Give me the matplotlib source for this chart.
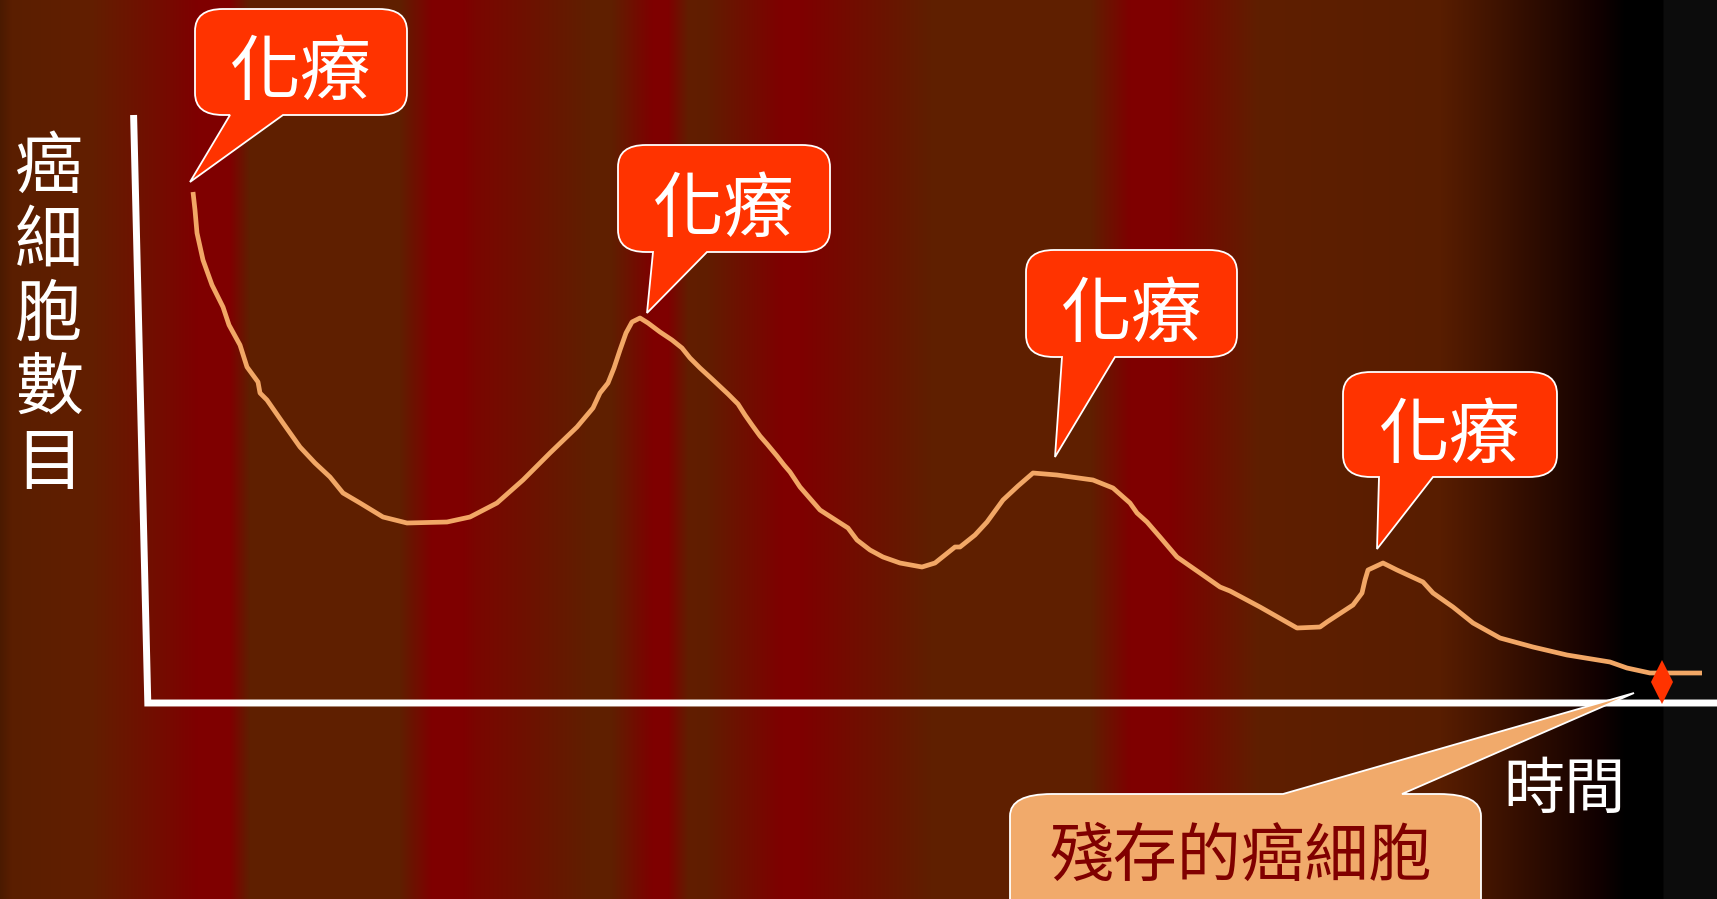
import numpy as np
import matplotlib
matplotlib.use("Agg")
import matplotlib.pyplot as plt
from matplotlib.path import Path
from matplotlib.patches import PathPatch, Polygon
from matplotlib.colors import to_rgb

W, H = 1717, 899
plt.rcParams['font.family'] = ['Noto Sans CJK TC', 'DejaVu Sans']

# ---------------- data ----------------
# time (arbitrary units from origin) and cancer-cell count (arbitrary units)
time = [45, 47, 49, 55, 64, 75, 81, 92, 99, 110, 112, 119, 135, 152, 167, 182,
        195, 212, 235, 259, 299, 322, 349, 375, 402, 429, 445, 452, 460, 466,
        472, 478, 484, 492, 500, 512, 524, 534, 542, 552, 564, 580, 590, 597,
        604, 612, 619, 629, 636, 642, 652, 672, 700, 709, 722, 735, 752, 774,
        787, 807, 812, 827, 839, 855, 870, 885, 909, 945, 965, 982, 989, 999,
        1012, 1029, 1052, 1072, 1082, 1112, 1149, 1172, 1179, 1205, 1214, 1217,
        1220, 1235, 1249, 1275, 1285, 1305, 1325, 1352, 1385, 1419, 1462, 1479,
        1502, 1554]
cells = [511, 493, 470, 443, 418, 396, 378, 358, 336, 321, 310, 303, 280, 256,
         240, 226, 210, 200, 186, 180, 181, 186, 200, 223, 250, 276, 295, 310,
         320, 335, 353, 370, 381, 385, 380, 371, 363, 355, 345, 335, 324, 309,
         299, 288, 278, 267, 259, 247, 238, 231, 216, 193, 175, 163, 153, 146,
         140, 136, 140, 156, 156, 168, 181, 203, 217, 230, 228, 223, 215, 200,
         190, 181, 166, 146, 130, 116, 112, 96, 75, 76, 81, 98, 110, 123, 133,
         140, 133, 121, 110, 96, 80, 65, 56, 48, 41, 35, 30, 30]

y_label = "癌細胞數目"
x_label = "時間"
treatment_label = "化療"
residual_label = "殘存的癌細胞"

# ---------------- layout / style ----------------
OX, OY = 148, 703          # pixel position of chart origin
CURVE_C = '#f2a766'
BUBBLE_C = '#ff3300'
CALLOUT_C = '#f1aa6b'
TEXT_DARK = '#800000'

fig = plt.figure(figsize=(W / 100, H / 100), dpi=100)

# background with vertical colour bands
bg = fig.add_axes([0, 0, 1, 1])
bg.set_axis_off()
stops = [(0, '#4a1a00'), (12, '#5a1e00'), (90, '#621f00'), (160, '#740c00'),
         (198, '#7f0000'), (230, '#7f0000'), (250, '#5f1f00'), (400, '#5f1f00'),
         (432, '#7f0000'), (463, '#7f0000'), (476, '#7a0600'), (590, '#5f1f00'),
         (612, '#5f1f00'), (653, '#7f0000'), (668, '#7f0000'), (688, '#621d00'),
         (705, '#601e00'), (783, '#7f0000'), (800, '#7f0000'), (930, '#5f1f00'),
         (1090, '#5f1f00'), (1130, '#7f0000'), (1168, '#7f0000'), (1258, '#5f1f00'),
         (1440, '#581d00'), (1600, '#100000'), (1625, '#000000'), (1662, '#000000'),
         (1663, '#0c0c0c'), (1717, '#0c0c0c')]
sx = [s[0] for s in stops]
sc = np.array([to_rgb(s[1]) for s in stops])
px = np.arange(W) + 0.5
grad = np.stack([np.interp(px, sx, sc[:, i]) for i in range(3)], axis=-1)[None, :, :]
bg.imshow(grad, extent=[0, W, H, 0], aspect='auto', interpolation='nearest')
bg.set_xlim(0, W)
bg.set_ylim(H, 0)

# axis lines (hand-drawn look)
bg.plot([133.6, 147.8, W + 5], [115, 703, 703], color='white', lw=5.0,
        solid_joinstyle='miter', solid_capstyle='butt', zorder=3)

# data axes: origin at chart corner
ax = fig.add_axes([0, 0, 1, 1])
ax.set_axis_off()
ax.patch.set_alpha(0)
ax.set_xlim(-OX, W - OX)
ax.set_ylim(-(H - OY), OY)
ax.plot(time, cells, color=CURVE_C, lw=3.4, solid_joinstyle='round',
        solid_capstyle='butt', zorder=4)

# overlay for annotations (pixel coordinates)
ov = fig.add_axes([0, 0, 1, 1])
ov.set_axis_off()
ov.patch.set_alpha(0)
ov.set_xlim(0, W)
ov.set_ylim(H, 0)

M, L, C3, CL = Path.MOVETO, Path.LINETO, Path.CURVE3, Path.CLOSEPOLY


def bubble(x0, y0, x1, y1, ta, tb, tip, rx=28, ry=22):
    verts = [(x0 + rx, y0), (x1 - rx, y0), (x1, y0), (x1, y0 + ry), (x1, y1 - ry),
             (x1, y1), (x1 - rx, y1), (tb, y1), tip, (ta, y1), (x0 + rx, y1),
             (x0, y1), (x0, y1 - ry), (x0, y0 + ry), (x0, y0), (x0 + rx, y0),
             (x0 + rx, y0)]
    codes = [M, L, C3, C3, L, C3, C3, L, L, L, L, C3, C3, L, C3, C3, CL]
    ov.add_patch(PathPatch(Path(verts, codes), facecolor=BUBBLE_C,
                           edgecolor='white', lw=1.3, zorder=6))
    ov.text((x0 + x1) / 2, (y0 + y1) / 2 + 12, treatment_label, color='white',
            fontsize=51, ha='center', va='center', zorder=7)


bubble(195, 9, 407, 115, 230, 283, (190, 182))
bubble(618, 145, 830, 252, 653, 707, (647, 313))
bubble(1026, 250, 1237, 357, 1062, 1115, (1055, 457))
bubble(1343, 372, 1557, 477, 1379, 1433, (1377, 549))

# bottom callout
x0, y0, x1, y1 = 1010, 794, 1481, 930
rx, ry = 42, 22
verts = [(x0, y1), (x0, y0 + ry), (x0, y0), (x0 + rx, y0), (1283, y0), (1634, 693),
         (1402, y0), (x1 - rx, y0), (x1, y0), (x1, y0 + ry), (x1, y1), (x0, y1)]
codes = [M, L, C3, C3, L, L, L, L, C3, C3, L, CL]
ov.add_patch(PathPatch(Path(verts, codes), facecolor=CALLOUT_C, edgecolor='white',
                       lw=1.3, zorder=6))
ov.text(1241, 858, residual_label, color=TEXT_DARK, fontsize=46, ha='center',
        va='center', zorder=7)

# residual-cell marker
ov.add_patch(Polygon([(1662, 660), (1673, 682), (1662, 704), (1651, 682)],
                     closed=True, facecolor=BUBBLE_C, edgecolor='none', zorder=5))

# axis labels
for i, ch in enumerate(y_label):
    ov.text(49, 169 + i * 74, ch, color='white', fontsize=49, ha='center',
            va='center', zorder=7)
ov.text(1564, 791, x_label, color='white', fontsize=44, ha='center', va='center',
        zorder=7)

fig.savefig('out.png', dpi=100)
